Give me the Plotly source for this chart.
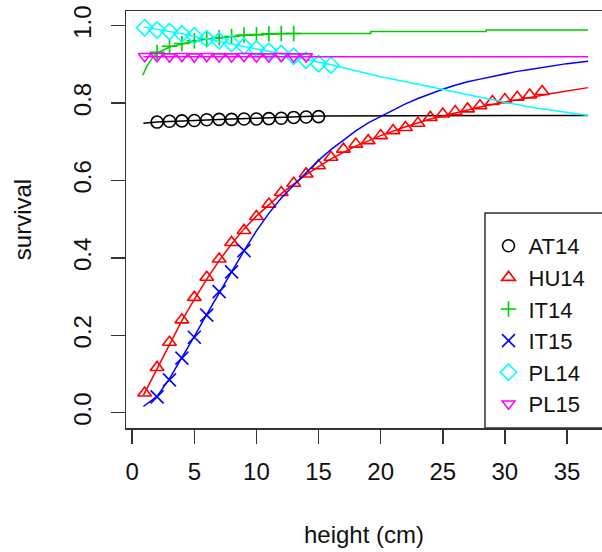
import plotly.graph_objects as go

# ---------------- data ----------------
series_names = ["AT14", "HU14", "IT14", "IT15", "PL14", "PL15"]
series_colors = ["#000000", "#FF0000", "#00CD00", "#0000FF", "#00FFFF", "#FF00FF"]
series_symbols = ["circle-open", "triangle-up-open", "cross-thin-open",
                  "x-thin-open", "diamond-open", "triangle-down-open"]

# observed points
at14_x = [2, 3, 4, 5, 6, 7, 8, 9, 10, 11, 12, 13, 14, 15]
at14_y = [0.751, 0.753, 0.754, 0.755, 0.757, 0.758, 0.758, 0.759, 0.759,
          0.760, 0.761, 0.763, 0.764, 0.765]

hu14_x = list(range(1, 34))
hu14_y = [0.051, 0.117, 0.182, 0.240, 0.298, 0.350, 0.397, 0.440, 0.471,
          0.507, 0.539, 0.569, 0.593, 0.617, 0.638, 0.660, 0.681, 0.694,
          0.703, 0.716, 0.729, 0.737, 0.748, 0.763, 0.772, 0.778, 0.785,
          0.793, 0.804, 0.809, 0.815, 0.821, 0.830]

it14_x = [2, 3, 4, 5, 6, 7, 8, 9, 10, 11, 12, 13]
it14_y = [0.931, 0.947, 0.954, 0.961, 0.966, 0.969, 0.972, 0.976, 0.977,
          0.979, 0.980, 0.980]

it15_x = [2, 3, 4, 5, 6, 7, 8, 9]
it15_y = [0.041, 0.085, 0.141, 0.195, 0.252, 0.313, 0.364, 0.419]

pl14_x = list(range(1, 17))
pl14_y = [0.995, 0.989, 0.985, 0.979, 0.974, 0.966, 0.961, 0.954, 0.947,
          0.940, 0.934, 0.928, 0.921, 0.911, 0.902, 0.898]

pl15_x = list(range(1, 15))
pl15_y = [0.921, 0.921, 0.920, 0.921, 0.920, 0.921, 0.920, 0.920, 0.921,
          0.920, 0.920, 0.921, 0.920, 0.920]

# fitted curves
at14_fit_x = [0.9, 2, 4, 6, 8, 10, 12, 14, 15, 36.7]
at14_fit_y = [0.748, 0.751, 0.754, 0.757, 0.759, 0.761, 0.763, 0.765, 0.767, 0.768]

hu14_fit_x = [0.9, 2, 3, 4, 5, 6, 7, 8, 9, 10, 12, 14, 16, 18, 20, 22, 24,
              26, 28, 30, 32, 34, 36.7]
hu14_fit_y = [0.045, 0.113, 0.178, 0.238, 0.293, 0.345, 0.393, 0.436, 0.475,
              0.508, 0.566, 0.615, 0.656, 0.689, 0.716, 0.739, 0.759, 0.775,
              0.790, 0.803, 0.815, 0.826, 0.840]

it14_fit_x = [0.85, 1.2, 1.7, 2, 3, 4, 5, 6, 7, 8, 9, 10, 11, 12, 13,
              19.2, 19.2, 28.5, 28.5, 36.7]
it14_fit_y = [0.872, 0.897, 0.920, 0.929, 0.945, 0.953, 0.960, 0.965, 0.969,
              0.972, 0.975, 0.977, 0.978, 0.979, 0.980, 0.980, 0.985, 0.985,
              0.989, 0.989]

it15_fit_x = [0.9, 2, 3, 4, 5, 6, 7, 8, 9, 10, 11, 12, 13, 14, 15, 16, 17,
              18, 19, 20, 21, 22, 23, 24, 25, 26, 27, 28, 29, 30, 31, 32, 33,
              34, 35, 36.7]
it15_fit_y = [0.016, 0.042, 0.088, 0.142, 0.197, 0.254, 0.310, 0.364, 0.418,
              0.470, 0.515, 0.555, 0.588, 0.620, 0.652, 0.680, 0.705, 0.728,
              0.749, 0.766, 0.782, 0.798, 0.812, 0.825, 0.836, 0.846, 0.855,
              0.862, 0.869, 0.876, 0.882, 0.887, 0.892, 0.897, 0.902, 0.908]

pl14_fit_x = [0.9, 4, 8, 12, 16, 20, 24, 28, 32, 36.7]
pl14_fit_y = [0.997, 0.979, 0.953, 0.927, 0.899, 0.868, 0.842, 0.815, 0.790, 0.768]

pl15_fit_x = [0.9, 10, 20, 30, 36.7]
pl15_fit_y = [0.920, 0.920, 0.920, 0.920, 0.920]

x_tick_vals = [0, 5, 10, 15, 20, 25, 30, 35]
y_tick_vals = [0.0, 0.2, 0.4, 0.6, 0.8, 1.0]
y_tick_text = ["0.0", "0.2", "0.4", "0.6", "0.8", "1.0"]

points = [(at14_x, at14_y), (hu14_x, hu14_y), (it14_x, it14_y),
          (it15_x, it15_y), (pl14_x, pl14_y), (pl15_x, pl15_y)]
fits = [(at14_fit_x, at14_fit_y), (hu14_fit_x, hu14_fit_y),
        (it14_fit_x, it14_fit_y), (it15_fit_x, it15_fit_y),
        (pl14_fit_x, pl14_fit_y), (pl15_fit_x, pl15_fit_y)]
marker_sizes = [12, 12, 11, 13, 12.5, 11]

FONT = "Liberation Sans, Arial, sans-serif"
AXIS_COLOR = "#333333"

fig = go.Figure()
for name, col, sym, msz, (px, py), (fx, fy) in zip(
        series_names, series_colors, series_symbols, marker_sizes, points, fits):
    fig.add_trace(go.Scatter(
        x=px, y=py, mode="markers", name=name,
        marker=dict(symbol=sym, size=msz, color=col,
                    line=dict(color=col, width=1.6)),
        cliponaxis=False))
    fig.add_trace(go.Scatter(
        x=fx, y=fy, mode="lines", name=name + " fit", showlegend=False,
        line=dict(color=col, width=1.5)))

# legend frame (extends past right edge like the reference)
fig.add_shape(type="rect", xref="paper", yref="paper",
              x0=(485 - 126) / 476, x1=1.05, y0=0, y1=(428 - 213) / 417,
              line=dict(color=AXIS_COLOR, width=1.5), fillcolor="rgba(0,0,0,0)")

fig.update_layout(
    width=602, height=552,
    margin=dict(l=126, r=0, t=11, b=124, autoexpand=False),
    paper_bgcolor="white", plot_bgcolor="white",
    font=dict(family=FONT, size=24, color="#111111"),
    showlegend=True,
    legend=dict(x=(488.5 - 126) / 476, xanchor="left",
                y=(428 - 225) / 417, yanchor="top",
                bgcolor="rgba(0,0,0,0)", borderwidth=0,
                font=dict(family=FONT, size=22, color="#111111"),
                itemclick=False, itemdoubleclick=False),
    xaxis=dict(range=[-0.5, 37.82], tickvals=x_tick_vals, automargin=False,
               showgrid=False, zeroline=False,
               showline=True, linecolor=AXIS_COLOR, linewidth=1.5, mirror=True,
               ticks="outside", ticklen=14, tickwidth=1.5, tickcolor=AXIS_COLOR,
               ticklabelstandoff=8,
               tickfont=dict(family=FONT, size=24, color="#111111"),
               title=dict(text="height (cm)", standoff=42,
                          font=dict(family=FONT, size=24, color="#111111"))),
    yaxis=dict(range=[-0.0395, 1.038], tickvals=y_tick_vals, ticktext=y_tick_text,
               automargin=False,
               showgrid=False, zeroline=False,
               showline=True, linecolor=AXIS_COLOR, linewidth=1.5, mirror=False,
               ticks="outside", ticklen=14, tickwidth=1.5, tickcolor=AXIS_COLOR,
               tickangle=-90, ticklabelstandoff=10,
               tickfont=dict(family=FONT, size=24, color="#111111"),
               title=dict(text="survival", standoff=30,
                          font=dict(family=FONT, size=24, color="#111111"))),
)

fig.write_html("out.html",
               config={"displayModeBar": False, "staticPlot": True},
               post_script="document.body.style.margin='0';"
                           "document.documentElement.style.margin='0';")
